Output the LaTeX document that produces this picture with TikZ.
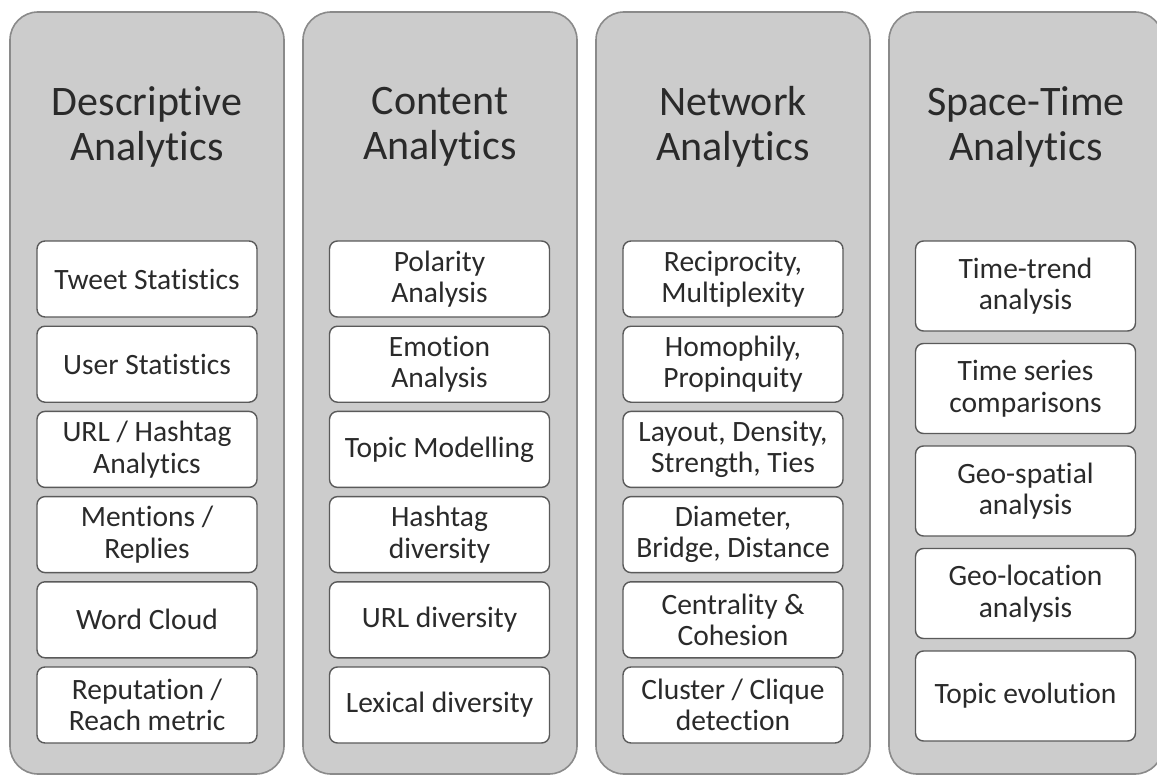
\documentclass[tikz,border=0pt]{standalone}
\usepackage{fontspec}
\setmainfont{Carlito}[Ligatures={NoCommon}]
\definecolor{colfill}{HTML}{CCCCCC}
\definecolor{coledge}{HTML}{8A8A8A}
\definecolor{boxedge}{HTML}{5A5A5A}
\definecolor{txt}{HTML}{2A2A2A}
\begin{document}
\begin{tikzpicture}[x=1pt,y=-1pt,
  panel/.style={draw=coledge, line width=1.6pt, fill=colfill, rounded corners=28pt},
  paneltitle/.style={align=center, text=txt, font=\fontsize{42}{45}\selectfont, inner sep=0pt},
  itembox/.style={draw=boxedge, line width=1.4pt, fill=white, rounded corners=8pt,
    minimum width=220pt, align=center, text=txt, inner sep=0pt,
    font=\fontsize{29.5}{31.5}\selectfont},
  sixrow/.style={itembox, minimum height=76pt},
  fiverow/.style={itembox, minimum height=90pt}]
\useasboundingbox (0,0) rectangle (1157,776);
\begin{scope}
\clip (0,0) rectangle (1157,776);
\draw[panel] (10,12) rectangle (284,774);
\draw[panel] (303,12) rectangle (577,774);
\draw[panel] (596,12) rectangle (870,774);
\draw[panel] (889,12) rectangle (1163,774);
\end{scope}

\node[paneltitle] (t1) at (147,127) {Descriptive\\Analytics};
\node[paneltitle] (t2) at (440,127) {Content\\Analytics};
\node[paneltitle] (t3) at (733,127) {Network\\Analytics};
\node[paneltitle] (t4) at (1026,127) {Space-Time\\Analytics};

% column 1
\node[sixrow] (a1) at (147,279) {Tweet Statistics};
\node[sixrow] (a2) at (147,364.2) {User Statistics};
\node[sixrow] (a3) at (147,449.4) {URL / Hashtag\\Analytics};
\node[sixrow] (a4) at (147,534.6) {Mentions /\\Replies};
\node[sixrow] (a5) at (147,619.8) {Word Cloud};
\node[sixrow] (a6) at (147,705) {Reputation /\\Reach metric};

% column 2
\node[sixrow] (b1) at (439.5,279) {Polarity\\Analysis};
\node[sixrow] (b2) at (439.5,364.2) {Emotion\\Analysis};
\node[sixrow] (b3) at (439.5,449.4) {Topic Modelling};
\node[sixrow] (b4) at (439.5,534.6) {Hashtag\\diversity};
\node[sixrow] (b5) at (439.5,619.8) {URL diversity};
\node[sixrow] (b6) at (439.5,705) {Lexical diversity};

% column 3
\node[sixrow] (c1) at (733,279) {Reciprocity,\\Multiplexity};
\node[sixrow] (c2) at (733,364.2) {Homophily,\\Propinquity};
\node[sixrow] (c3) at (733,449.4) {Layout, Density,\\Strength, Ties};
\node[sixrow] (c4) at (733,534.6) {Diameter,\\Bridge, Distance};
\node[sixrow] (c5) at (733,619.8) {Centrality \&\\Cohesion};
\node[sixrow] (c6) at (733,705) {Cluster / Clique\\detection};

% column 4
\node[fiverow] (d1) at (1025.5,286) {Time-trend\\analysis};
\node[fiverow] (d2) at (1025.5,388.5) {Time series\\comparisons};
\node[fiverow] (d3) at (1025.5,491) {Geo-spatial\\analysis};
\node[fiverow] (d4) at (1025.5,593.5) {Geo-location\\analysis};
\node[fiverow] (d5) at (1025.5,696) {Topic evolution};
\end{tikzpicture}
\end{document}
